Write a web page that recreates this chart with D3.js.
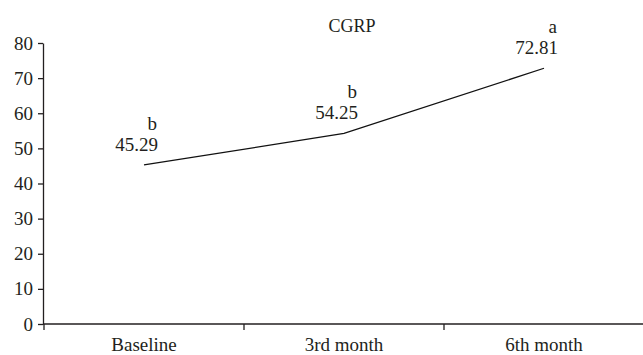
<!DOCTYPE html>
<html>
<head>
<meta charset="utf-8">
<script src="https://d3js.org/d3.v7.min.js"></script>
<style>
  body { margin: 0; background: #fff; }
  svg text { font-family: "Liberation Serif", "DejaVu Serif", serif; fill: #231f20; }
  .axis path, .axis line { stroke: #231f20; stroke-width: 1.3; }
  .line { fill: none; stroke: #111; stroke-width: 1.3; }
</style>
</head>
<body>
<div id="chart"></div>
<script>
var categories = ["Baseline", "3rd month", "6th month"];
var values = [45.29, 54.25, 72.81];
var letters = ["b", "b", "a"];
var yTicks = [0, 10, 20, 30, 40, 50, 60, 70, 80];

var width = 643, height = 355;
var margin = {top: 43, right: 0, bottom: 31, left: 43};

var svg = d3.select("#chart").append("svg")
    .attr("width", width)
    .attr("height", height);

var x = d3.scaleBand()
    .domain(categories)
    .range([margin.left + 1, width + 1]);

var y = d3.scaleLinear()
    .domain([0, 80])
    .range([height - margin.bottom, margin.top]);

// y axis
var yAxis = svg.append("g")
    .attr("class", "axis")
    .attr("transform", "translate(" + margin.left + ",0)")
    .call(d3.axisLeft(y).tickValues(yTicks).tickSize(5).tickPadding(5).tickSizeOuter(0));
yAxis.attr("font-family", "Liberation Serif").attr("font-size", null);
yAxis.selectAll("text").style("font-size", "19px");

// x axis with ticks between categories
var xAxis = svg.append("g")
    .attr("class", "axis")
    .attr("transform", "translate(0," + y(0) + ")");
xAxis.append("line")
    .attr("x1", margin.left).attr("x2", width)
    .attr("y1", 0).attr("y2", 0);
xAxis.selectAll(".tk")
    .data(categories)
    .enter().append("line")
    .attr("class", "tk")
    .attr("x1", function(d) { return x(d); })
    .attr("x2", function(d) { return x(d); })
    .attr("y1", 0).attr("y2", 6);
xAxis.selectAll(".lbl")
    .data(categories)
    .enter().append("text")
    .attr("class", "lbl")
    .attr("x", function(d) { return x(d) + x.bandwidth() / 2; })
    .attr("y", 27)
    .attr("text-anchor", "middle")
    .style("font-size", "19px")
    .text(function(d) { return d; });

// title
svg.append("text")
    .attr("x", 352)
    .attr("y", 32)
    .attr("text-anchor", "middle")
    .style("font-size", "18px")
    .text("CGRP");

var line = d3.line()
    .x(function(d, i) { return x(categories[i]) + x.bandwidth() / 2; })
    .y(function(d) { return y(d); });

svg.append("path")
    .datum(values)
    .attr("class", "line")
    .attr("d", line);

// value labels
svg.selectAll(".val")
    .data(values)
    .enter().append("text")
    .attr("class", "val")
    .attr("x", function(d, i) { return x(categories[i]) + x.bandwidth() / 2 + 14; })
    .attr("y", function(d) { return y(d) - 14; })
    .attr("text-anchor", "end")
    .style("font-size", "19px")
    .text(function(d) { return d.toFixed(2); });

svg.selectAll(".sig")
    .data(letters)
    .enter().append("text")
    .attr("class", "sig")
    .attr("x", function(d, i) { return x(categories[i]) + x.bandwidth() / 2 + 13; })
    .attr("y", function(d, i) { return y(values[i]) - 35; })
    .attr("text-anchor", "end")
    .style("font-size", "19px")
    .text(function(d) { return d; });
</script>
</body>
</html>
